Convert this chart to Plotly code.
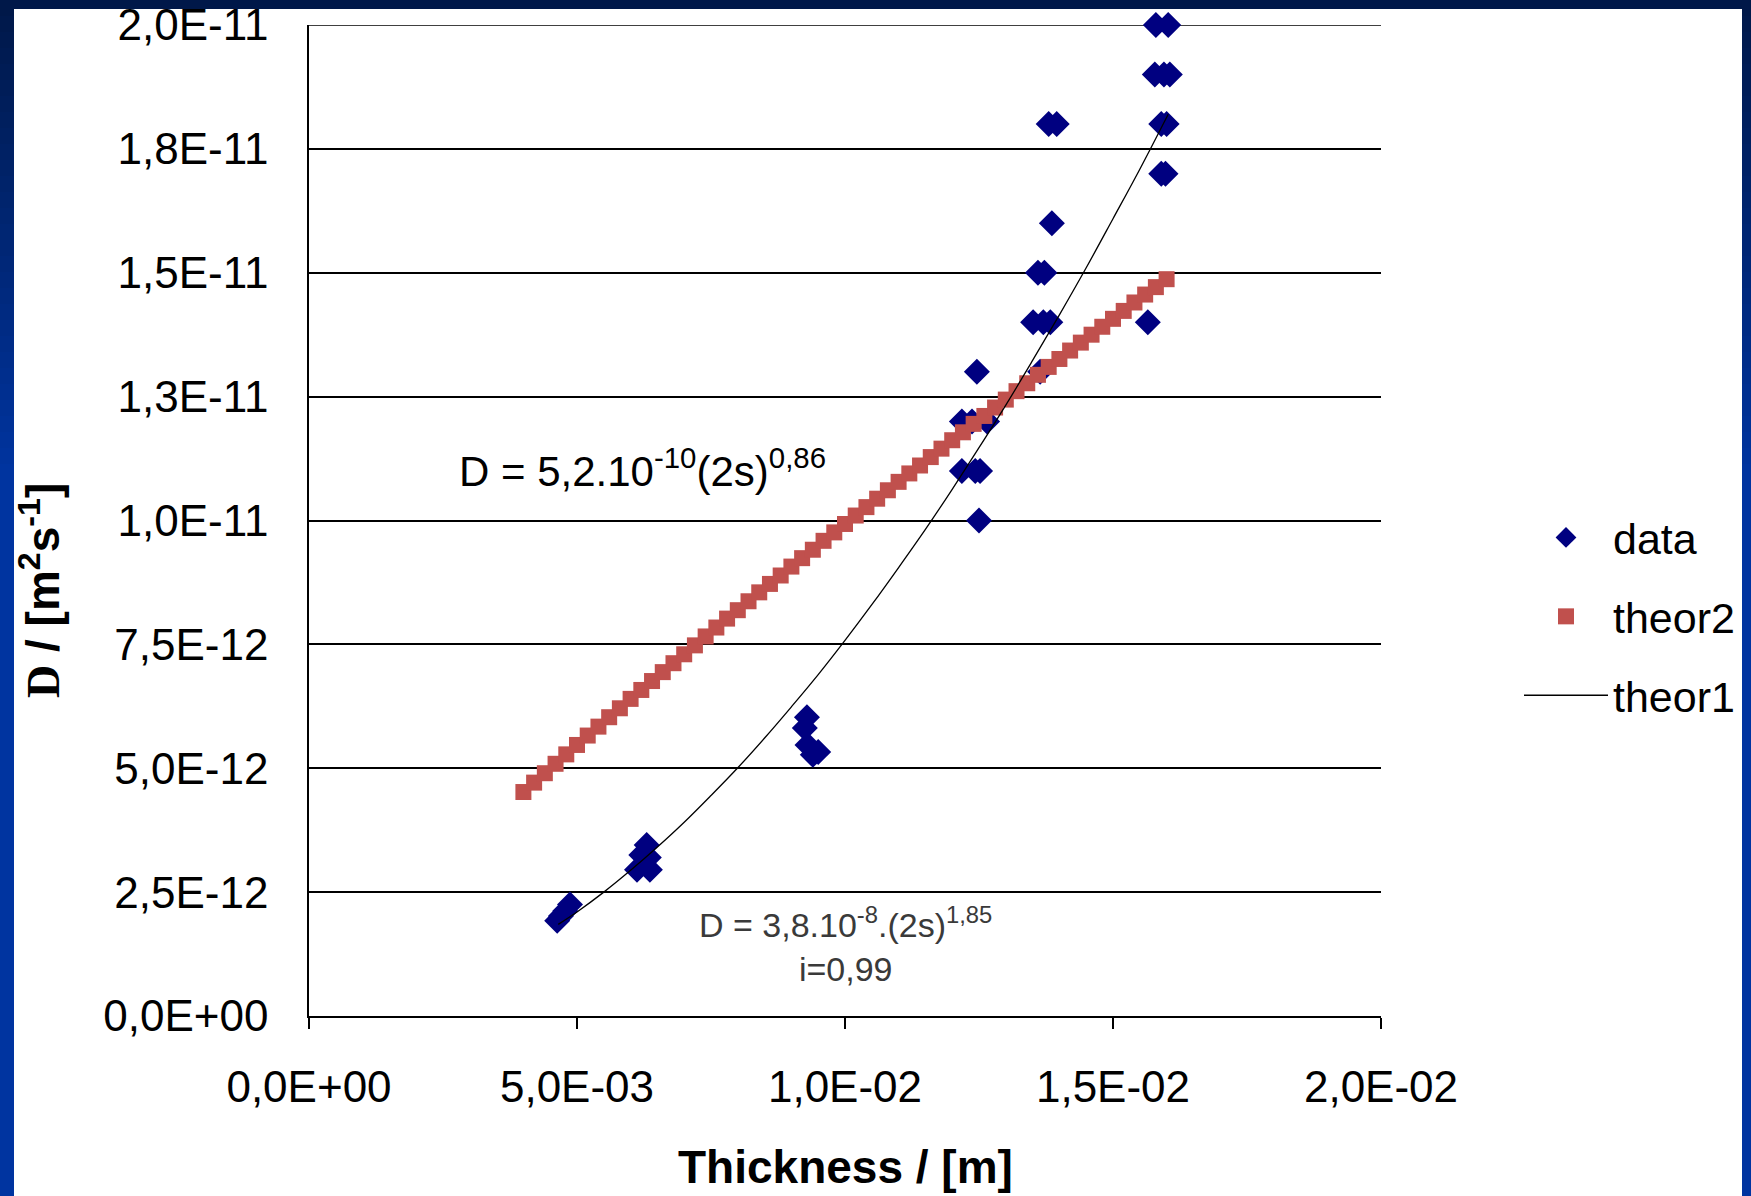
import plotly.graph_objects as go

# ---------------- data ----------------
data_x = [0.00463, 0.00470, 0.00478, 0.00487,
          0.00630, 0.00620, 0.00612, 0.00636, 0.00634,
          0.00929, 0.00925, 0.00930, 0.00950, 0.00940,
          0.01250,
          0.01218, 0.01243, 0.01252,
          0.01218, 0.01237, 0.01265,
          0.01246, 0.01364,
          0.01351, 0.01370, 0.01383, 0.01565,
          0.01360, 0.01372,
          0.01386,
          0.01590, 0.01598,
          0.01380, 0.01395, 0.01590, 0.01600,
          0.01578, 0.01595, 0.01606,
          0.01580, 0.01603]
data_y = [1.92e-12, 2.02e-12, 2.12e-12, 2.25e-12,
          3.45e-12, 3.25e-12, 2.95e-12, 2.95e-12, 3.20e-12,
          6.03e-12, 5.81e-12, 5.47e-12, 5.33e-12, 5.27e-12,
          1.00e-11,
          1.10e-11, 1.10e-11, 1.10e-11,
          1.20e-11, 1.20e-11, 1.20e-11,
          1.30e-11, 1.30e-11,
          1.40e-11, 1.40e-11, 1.40e-11, 1.40e-11,
          1.50e-11, 1.50e-11,
          1.60e-11,
          1.70e-11, 1.70e-11,
          1.80e-11, 1.80e-11, 1.80e-11, 1.80e-11,
          1.90e-11, 1.90e-11, 1.90e-11,
          2.00e-11, 2.00e-11]

theor2_x_mm = [4.0, 4.2, 4.4, 4.6, 4.8, 5.0, 5.2, 5.4, 5.6, 5.8,
               6.0, 6.2, 6.4, 6.6, 6.8, 7.0, 7.2, 7.4, 7.6, 7.8,
               8.0, 8.2, 8.4, 8.6, 8.8, 9.0, 9.2, 9.4, 9.6, 9.8,
               10.0, 10.2, 10.4, 10.6, 10.8, 11.0, 11.2, 11.4, 11.6, 11.8,
               12.0, 12.2, 12.4, 12.6, 12.8, 13.0, 13.2, 13.4, 13.6, 13.8,
               14.0, 14.2, 14.4, 14.6, 14.8, 15.0, 15.2, 15.4, 15.6, 15.8, 16.0]
theor2_y_e12 = [4.52, 4.71, 4.90, 5.09, 5.28, 5.47, 5.66, 5.84, 6.03, 6.21,
                6.40, 6.58, 6.76, 6.94, 7.12, 7.30, 7.48, 7.66, 7.84, 8.02,
                8.19, 8.37, 8.55, 8.72, 8.89, 9.07, 9.24, 9.41, 9.59, 9.76,
                9.93, 10.10, 10.27, 10.44, 10.61, 10.78, 10.95, 11.11, 11.28, 11.45,
                11.62, 11.78, 11.95, 12.11, 12.28, 12.44, 12.61, 12.77, 12.94, 13.10,
                13.26, 13.43, 13.59, 13.75, 13.91, 14.07, 14.23, 14.40, 14.56, 14.71, 14.87]

theor1_x_mm = [4.65, 5.0, 5.5, 6.0, 6.5, 7.0, 7.5, 8.0, 8.5, 9.0, 9.5, 10.0,
               10.5, 11.0, 11.5, 12.0, 12.5, 13.0, 13.5, 14.0, 14.5, 15.0, 15.5, 16.03]
theor1_y_e12 = [1.85, 2.10, 2.50, 2.94, 3.41, 3.91, 4.45, 5.01, 5.61, 6.24, 6.89, 7.58,
                8.30, 9.05, 9.82, 10.63, 11.47, 12.33, 13.23, 14.15, 15.10, 16.09, 17.09, 18.20]

x_tickvals = [0, 0.005, 0.01, 0.015, 0.02]
x_ticktext = ["0,0E+00", "5,0E-03", "1,0E-02", "1,5E-02", "2,0E-02"]
y_tickvals = [0, 2.5e-12, 5e-12, 7.5e-12, 1e-11, 1.25e-11, 1.5e-11, 1.75e-11, 2e-11]
y_ticktext = ["0,0E+00", "2,5E-12", "5,0E-12", "7,5E-12", "1,0E-11",
              "1,3E-11", "1,5E-11", "1,8E-11", "2,0E-11"]

# ---------------- layout geometry ----------------
W, H = 1751, 1196
L, R, T, B = 309, 1381, 25, 1016


def px(x):
    return (x - L) / (R - L)


def py(y):
    return (B - y) / (B - T)


FONT = "Arial, 'Liberation Sans', Helvetica, sans-serif"

fig = go.Figure()
fig.add_trace(go.Scatter(
    x=data_x, y=data_y, mode="markers", name="data", legendgroup="g1",
    marker=dict(symbol="diamond", size=20, color="#000080", line=dict(width=0)),
    cliponaxis=False))
fig.add_trace(go.Scatter(
    x=[v / 1000 for v in theor2_x_mm], y=[v * 1e-12 for v in theor2_y_e12],
    mode="markers", name="theor2", legendgroup="g2",
    marker=dict(symbol="square", size=16, color="#C0504D", line=dict(width=0)),
    cliponaxis=False))
fig.add_trace(go.Scatter(
    x=[v / 1000 for v in theor1_x_mm], y=[v * 1e-12 for v in theor1_y_e12],
    mode="lines", name="theor1", legendgroup="g3",
    line=dict(color="black", width=1.3, shape="spline")))

# background: blue gradient frame + white panel
shapes = []
top_col = (0, 24, 72)
bot_col = (0, 52, 160)
nb = 30
grad_end = 480
for i in range(nb):
    y0 = -5 if i == 0 else grad_end * i / nb
    y1 = grad_end * (i + 1) / nb
    t = (i + 0.5) / nb
    c = tuple(int(round(top_col[k] + (bot_col[k] - top_col[k]) * t)) for k in range(3))
    shapes.append(dict(type="rect", xref="paper", yref="paper", layer="below",
                       x0=px(-5), x1=px(W + 5), y0=py(y0), y1=py(y1 + 1),
                       fillcolor="rgb(%d,%d,%d)" % c, line=dict(width=0)))
shapes.append(dict(type="rect", xref="paper", yref="paper", layer="below",
                   x0=px(-5), x1=px(W + 5), y0=py(grad_end), y1=py(H + 5),
                   fillcolor="rgb(%d,%d,%d)" % bot_col, line=dict(width=0)))
shapes.append(dict(type="rect", xref="paper", yref="paper", layer="below",
                   x0=px(14), x1=px(1742), y0=py(9), y1=py(H + 5),
                   fillcolor="white", line=dict(width=0)))
# top gridline (at the upper end of the y range)
shapes.append(dict(type="line", xref="x", yref="y", layer="below",
                   x0=x_tickvals[0], x1=x_tickvals[-1], y0=y_tickvals[-1], y1=y_tickvals[-1],
                   line=dict(color="black", width=1.5)))

annotations = [
    dict(xref="paper", yref="paper", x=px(845), y=py(1167), showarrow=False,
         text="<b>Thickness / [m]</b>", font=dict(family=FONT, size=46, color="black"),
         xanchor="center", yanchor="middle"),
    dict(xref="paper", yref="paper", x=px(40), y=py(591), showarrow=False, textangle=-90,
         text='<b><span style="font-family:Liberation Serif,Times New Roman,serif">D</span>'
              ' / [m<sup>2</sup>s<sup>-1</sup>]</b>',
         font=dict(family=FONT, size=46, color="black"),
         xanchor="center", yanchor="middle"),
    dict(xref="paper", yref="paper", x=px(457), y=py(468), showarrow=False,
         text="D = 5,2.10<sup>-10</sup>(2s)<sup>0,86</sup>",
         font=dict(family=FONT, size=42, color="black"),
         xanchor="left", yanchor="middle"),
    dict(xref="paper", yref="paper", x=px(845), y=py(944), showarrow=False,
         text="D = 3,8.10<sup>-8</sup>.(2s)<sup>1,85</sup><br>i=0,99",
         font=dict(family=FONT, size=34, color="#3a3a3a"),
         xanchor="center", yanchor="middle", align="center"),
]

fig.update_layout(
    width=W, height=H,
    margin=dict(l=L, r=W - R, t=T, b=H - B, pad=0, autoexpand=False),
    paper_bgcolor="rgb(0,24,72)",
    plot_bgcolor="white",
    font=dict(family=FONT, size=42, color="black"),
    showlegend=True,
    legend=dict(x=px(1519), y=py(503), xanchor="left", yanchor="top",
                bgcolor="rgba(0,0,0,0)", font=dict(family=FONT, size=43, color="black"),
                itemwidth=84, traceorder="grouped", tracegroupgap=20),
    shapes=shapes,
    annotations=annotations,
)
fig.update_xaxes(range=[0, 0.02], tickvals=x_tickvals, ticktext=x_ticktext,
                 showgrid=False, zeroline=False, showline=True, linecolor="black",
                 linewidth=1.5, ticks="outside", ticklen=11, tickwidth=1.5,
                 tickcolor="black", ticklabelstandoff=20, automargin=False,
                 tickfont=dict(family=FONT, size=44, color="black"))
fig.update_yaxes(range=[0, 2e-11], tickvals=y_tickvals, ticktext=y_ticktext,
                 showgrid=True, gridcolor="black", gridwidth=1.5, zeroline=False,
                 showline=True, linecolor="black", linewidth=1.5, ticks="",
                 ticklabelstandoff=30, automargin=False,
                 tickfont=dict(family=FONT, size=44, color="black"))

fig.write_html(
    "out.html",
    config={"displayModeBar": False},
    post_script="document.body.style.margin='0';document.body.style.overflow='hidden';",
)
